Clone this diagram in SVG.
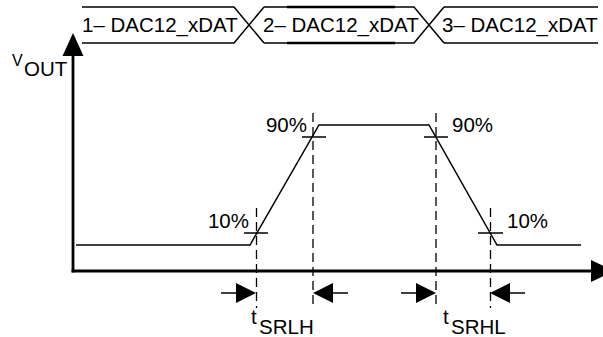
<svg xmlns="http://www.w3.org/2000/svg" width="603" height="337" viewBox="0 0 603 337">
<style>
.t{font-family:"Liberation Sans",Arial,sans-serif;font-size:20.5px;fill:#000}
.ln{stroke:#000;stroke-width:1.5;fill:none}
.bold{stroke:#000;stroke-width:2.6;fill:none}
.ax{stroke:#000;stroke-width:2.8;fill:none}
.dash{stroke:#000;stroke-width:1.3;stroke-dasharray:9,5;fill:none}
.ah{fill:#000;stroke:none}
</style>
<rect width="603" height="337" fill="#fff"/>
<g id="bus">
<g id="seg1">
<path class="ln" d="M82,7 H234 L264,43 M82,43 H234 L264,7"/>
<text class="t" x="82" y="32">1– DAC12_xDAT</text>
</g>
<g id="seg2">
<path class="ln" d="M264,7 H414 L444,43 M264,43 H414 L444,7"/>
<path class="bold" d="M287,7 H395 M287,43 H395"/>
<text class="t" x="263" y="32">2– DAC12_xDAT</text>
</g>
<g id="seg3">
<path class="ln" d="M444,7 H598 M444,43 H598"/>
<text class="t" x="442" y="32">3– DAC12_xDAT</text>
</g>
</g>
<g id="vout-label">
<text class="t" x="12" y="66" style="font-size:16px">V</text>
<text class="t" x="24" y="76">OUT</text>
</g>
<g id="connectors">
<line class="ax" x1="73" y1="272.4" x2="73" y2="55"/>
<polygon class="ah" points="73,33 62.5,56 83.5,56"/>
<line class="ax" x1="71.6" y1="271" x2="592" y2="271"/>
<polygon class="ah" points="591,260 614,271 591,282"/>
<polyline class="ln" points="76,245 250,245 319,125 429,125 497,245 581,245"/>
<line class="dash" x1="256.5" y1="208" x2="256.5" y2="308"/>
<line class="dash" x1="313" y1="113" x2="313" y2="308"/>
<line class="dash" x1="436" y1="113" x2="436" y2="308"/>
<line class="dash" x1="490.5" y1="208" x2="490.5" y2="308"/>
<path class="ln" d="M244,233 H268 M302,137 H326 M424,137 H448 M478,233 H503"/>
<path class="ln" d="M221,293 H238 M331,293 H348 M401,293 H418 M508,293 H525"/>
<polygon class="ah" points="256,293 236,283 236,303"/>
<polygon class="ah" points="313,293 333,283 333,303"/>
<polygon class="ah" points="436,293 416,283 416,303"/>
<polygon class="ah" points="490,293 510,283 510,303"/>
</g>
<g id="pct-labels">
<text class="t" x="307" y="132" text-anchor="end">90%</text>
<text class="t" x="249" y="228" text-anchor="end">10%</text>
<text class="t" x="452" y="132">90%</text>
<text class="t" x="507" y="228">10%</text>
</g>
<g id="tsrlh">
<text class="t" x="251" y="324">t</text>
<text class="t" x="259" y="334">SRLH</text>
</g>
<g id="tsrhl">
<text class="t" x="443" y="324">t</text>
<text class="t" x="451" y="334">SRHL</text>
</g>
</svg>
